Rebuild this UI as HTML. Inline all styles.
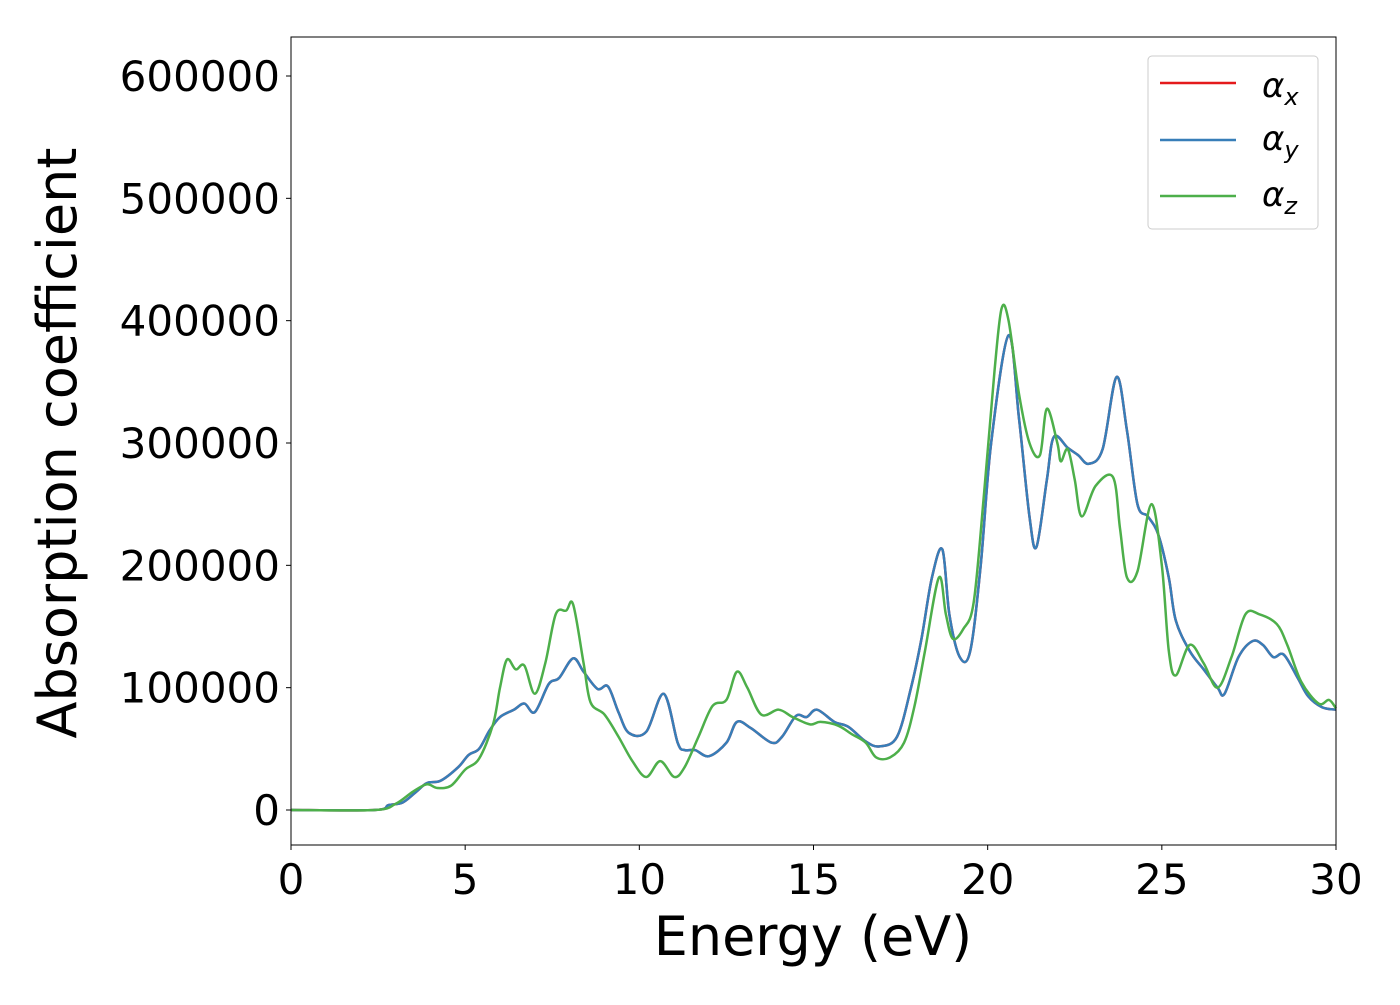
<!DOCTYPE html>
<html><head><meta charset="utf-8"><style>
body{margin:0;background:#fff}
text{font-family:"DejaVu Sans","Liberation Sans",sans-serif;fill:#000}
</style></head><body>
<svg id="chart" width="1400" height="1000" xmlns="http://www.w3.org/2000/svg">
<rect width="1400" height="1000" fill="#fff"/>
<g id="plot"></g>
<rect x="291" y="37" width="1045" height="808" fill="none" stroke="#000" stroke-width="1"/>
<g id="xticks"></g><g id="yticks"></g>
<text x="813" y="955" font-size="54" text-anchor="middle">Energy (eV)</text>
<text transform="translate(76,443) rotate(-90)" font-size="54" text-anchor="middle">Absorption coefficient</text>
<g>
<rect x="1148" y="56" width="170" height="173" rx="4" fill="#fff" stroke="#ccc"/>
<line x1="1160" y1="83" x2="1236" y2="83" stroke="#e41a1c" stroke-width="2.5"/>
<text x="1262" y="97" font-size="34" font-style="italic">α<tspan font-size="24" dy="8">x</tspan></text>
<line x1="1160" y1="140" x2="1236" y2="140" stroke="#377eb8" stroke-width="2.5"/>
<text x="1262" y="150" font-size="34" font-style="italic">α<tspan font-size="24" dy="8">y</tspan></text>
<line x1="1160" y1="196" x2="1236" y2="196" stroke="#4daf4a" stroke-width="2.5"/>
<text x="1262" y="206" font-size="34" font-style="italic">α<tspan font-size="24" dy="8">z</tspan></text>
</g>
</svg>
<script>
const xTicks=[0,5,10,15,20,25,30];
const yTicks=[0,100000,200000,300000,400000,500000,600000];
const energyXY=[0,2.4,2.8,3.2,3.6,3.9,4.3,4.8,5.1,5.4,5.7,6.0,6.4,6.7,7.0,7.4,7.7,8.1,8.4,8.8,9.1,9.4,9.7,10.2,10.7,11.1,11.3,11.6,12.0,12.5,12.8,13.2,13.8,14.1,14.5,14.8,15.1,15.6,16.0,16.5,16.9,17.4,17.8,18.1,18.4,18.7,18.9,19.2,19.5,19.8,20.1,20.6,20.9,21.2,21.4,21.7,21.9,22.3,22.6,22.9,23.3,23.7,24.0,24.3,24.6,24.9,25.2,25.4,25.8,26.2,26.6,26.8,27.2,27.6,27.9,28.2,28.5,28.9,29.2,29.6,30];
const alphaX=[0,0,4000,6000,15000,22000,24000,35000,45000,50000,65000,76000,82000,87000,80000,103000,108000,124000,113000,99000,101000,80000,63000,64000,95000,55000,49000,49000,44000,55000,72000,67000,55000,60000,77000,76000,82000,72000,68000,56000,52000,60000,100000,140000,190000,213000,160000,125000,130000,200000,300000,388000,320000,240000,215000,270000,305000,296000,290000,283000,295000,354000,310000,250000,240000,225000,190000,155000,130000,115000,100000,95000,125000,138000,135000,125000,127000,108000,93000,84000,82000];
const alphaY=alphaX.slice();
const energyZ=[0,2.4,3.0,3.5,3.9,4.2,4.6,5.0,5.4,5.8,6.0,6.2,6.45,6.7,7.0,7.3,7.6,7.9,8.1,8.4,8.6,9.0,9.4,9.8,10.2,10.6,11.0,11.3,11.7,12.1,12.5,12.8,13.1,13.5,14.0,14.4,14.9,15.2,15.7,16.1,16.5,16.8,17.2,17.6,17.9,18.2,18.6,18.8,19.0,19.3,19.6,19.9,20.2,20.4,20.6,20.9,21.2,21.5,21.7,22.0,22.1,22.3,22.5,22.7,23.1,23.6,23.8,24.0,24.3,24.7,25.0,25.2,25.4,25.8,26.2,26.6,27.0,27.4,27.8,28.3,28.6,29.0,29.5,29.8,30];
const alphaZ=[0,0,5000,15000,21000,18000,20000,33000,42000,70000,100000,123000,115000,118000,95000,120000,160000,163000,168000,120000,88000,78000,60000,40000,27000,40000,27000,35000,60000,85000,90000,113000,100000,78000,82000,76000,70000,72000,69000,62000,55000,43000,43000,55000,85000,130000,190000,160000,140000,148000,170000,260000,360000,410000,400000,340000,300000,290000,328000,300000,285000,295000,270000,240000,265000,272000,230000,190000,195000,250000,200000,130000,110000,135000,120000,100000,125000,160000,160000,152000,135000,105000,87000,90000,83000];
const X=v=>291+v*(1045/30);
const Y=v=>810-v*(734/600000);
const NS="http://www.w3.org/2000/svg";
function smooth(xs,ys){const p=xs.map((x,i)=>[X(x),Y(ys[i])]);let d=`M${p[0][0]},${p[0][1]}`;
for(let i=0;i<p.length-1;i++){const p0=p[i-1]||p[i],p1=p[i],p2=p[i+1],p3=p[i+2]||p2;
d+=`C${p1[0]+(p2[0]-p0[0])/6},${p1[1]+(p2[1]-p0[1])/6} ${p2[0]-(p3[0]-p1[0])/6},${p2[1]-(p3[1]-p1[1])/6} ${p2[0]},${p2[1]}`;}return d;}
const plot=document.getElementById('plot');
function line(xs,ys,c,name){const e=document.createElementNS(NS,'path');e.setAttribute('d',smooth(xs,ys));e.setAttribute('fill','none');e.setAttribute('stroke',c);e.setAttribute('stroke-width','2.5');


plot.appendChild(e);}
line(energyXY,alphaX,'#e41a1c','series-alpha-x');
line(energyXY,alphaY,'#377eb8','series-alpha-y');
line(energyZ,alphaZ,'#4daf4a','series-alpha-z');
const xg=document.getElementById('xticks'),yg=document.getElementById('yticks');
xTicks.forEach(t=>{const l=document.createElementNS(NS,'line');l.setAttribute('x1',X(t));l.setAttribute('x2',X(t));l.setAttribute('y1',845);l.setAttribute('y2',850);l.setAttribute('stroke','#000');xg.appendChild(l);
const s=document.createElementNS(NS,'text');s.setAttribute('x',X(t));s.setAttribute('y',894);s.setAttribute('font-size','42');s.setAttribute('text-anchor','middle');s.textContent=t;


xg.appendChild(s);});
yTicks.forEach(t=>{const l=document.createElementNS(NS,'line');l.setAttribute('x1',286);l.setAttribute('x2',291);l.setAttribute('y1',Y(t));l.setAttribute('y2',Y(t));l.setAttribute('stroke','#000');yg.appendChild(l);
const s=document.createElementNS(NS,'text');s.setAttribute('x',280);s.setAttribute('y',Y(t)+15);s.setAttribute('font-size','42');s.setAttribute('text-anchor','end');s.textContent=t;


yg.appendChild(s);});
</script>
</body></html>
